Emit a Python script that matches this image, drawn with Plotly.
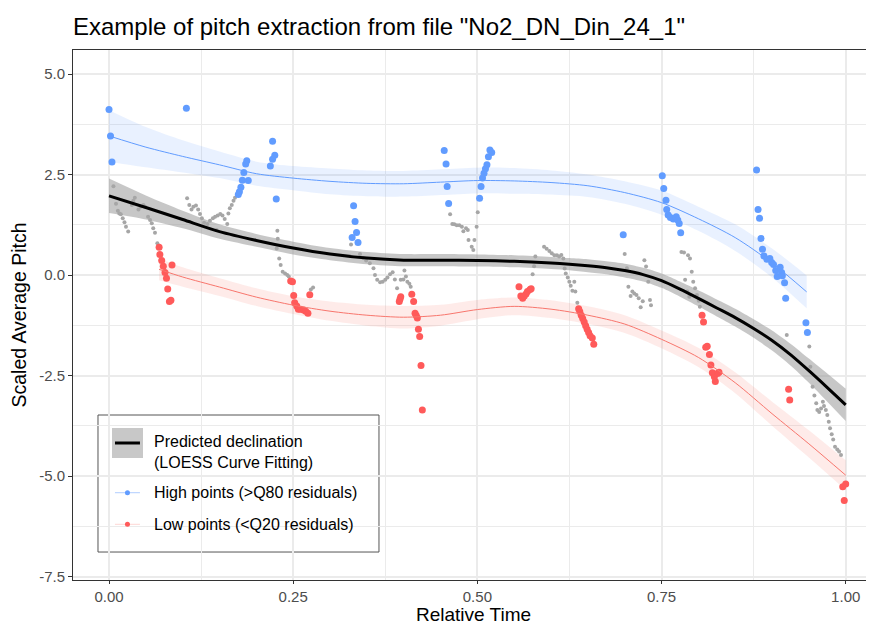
import plotly.graph_objects as go

# ---- data ----
title_text = 'Example of pitch extraction from file "No2_DN_Din_24_1"'

# all frames (grey dots)
grey_x = [0.006, 0.0095, 0.012, 0.014, 0.016, 0.0186, 0.021, 0.023, 0.026, 0.031, 0.033, 0.035,
          0.04, 0.043, 0.0466, 0.049, 0.053, 0.0557, 0.058, 0.06, 0.0624, 0.0656,
          0.106, 0.109, 0.112, 0.1145, 0.118, 0.121, 0.1235, 0.126, 0.129, 0.1335, 0.137, 0.141,
          0.144, 0.146, 0.1475, 0.151, 0.154, 0.157, 0.1605, 0.162, 0.164, 0.1666, 0.169, 0.171,
          0.2285, 0.229, 0.2276, 0.231, 0.233, 0.2357, 0.239, 0.242, 0.244, 0.274, 0.277,
          0.3285, 0.3407, 0.345, 0.349, 0.354, 0.359, 0.361, 0.364, 0.368, 0.3715, 0.375, 0.378,
          0.3814, 0.385, 0.388, 0.391, 0.396, 0.3995, 0.401, 0.403, 0.405, 0.4077, 0.4095,
          0.463, 0.466, 0.4687, 0.472, 0.4755, 0.479, 0.481, 0.4846, 0.487, 0.488, 0.4923,
          0.4945, 0.496, 0.499, 0.5005,
          0.575, 0.577, 0.5787, 0.5905, 0.594, 0.5977, 0.601, 0.6045, 0.608, 0.611, 0.614, 0.6167,
          0.6185, 0.62, 0.6227, 0.6248, 0.6267, 0.629, 0.6316, 0.633, 0.6357,
          0.7, 0.703, 0.705, 0.708, 0.7104, 0.713, 0.716, 0.719, 0.7217, 0.7245, 0.7267, 0.729,
          0.732, 0.7343, 0.7357,
          0.777, 0.7805, 0.782, 0.785, 0.786, 0.7877, 0.7886, 0.791, 0.793, 0.7955, 0.798, 0.8005, 0.802,
          0.92, 0.9506, 0.952, 0.955, 0.9575, 0.96, 0.9615, 0.964, 0.9665, 0.969, 0.9705, 0.973,
          0.975, 0.977, 0.9787, 0.981, 0.983, 0.9855, 0.9886, 0.991, 0.9936]
grey_y = [2.21, 1.77, 1.6, 1.53, 1.51, 1.41, 1.31, 1.2, 1.08, 1.74, 1.85, 1.92,
          1.63, 1.7, 1.74, 1.7, 1.45, 1.37, 1.29, 1.16, 1.05, 0.79,
          1.91, 1.74, 1.63, 1.7, 1.73, 1.63, 1.52, 1.41, 1.3, 1.27, 1.35, 1.41,
          1.45, 1.12, 1.48, 1.52, 1.48, 1.39, 1.27, 1.53, 1.66, 1.74, 1.85, 1.92,
          1.1, 0.9, 0.66, 0.41, 0.25, 0.08, 0.04, 0.0, -0.04, -0.36, -0.31,
          0.76, 0.52, 0.42, 0.36, 0.29, 0.17, 0.0, -0.12, -0.18, -0.17, -0.12, -0.06,
          0.02, 0.07, -0.11, -0.33, -0.12, -0.11, 0.11, -0.04, -0.17, -0.22, -0.29,
          1.51, 1.27, 1.26, 1.24, 1.24, 1.2, 1.09, 1.16, 1.12, 0.87, 0.7,
          0.62, 0.87, 1.2, 1.56,
          0.02, 0.22, 0.46, 0.7, 0.65, 0.6, 0.54, 0.49, 0.49, 0.46, 0.5, 0.41,
          0.16, 0.04, -0.06, -0.17, -0.27, -0.39, -0.17, -0.41, -0.69,
          0.52, 0.17, -0.29, -0.52, -0.41, -0.46, -0.5, -0.58, -0.8, -0.65, 0.37, 0.21,
          -0.17, -0.62, -0.75,
          0.57, 0.56, -0.12, -0.41, 0.49, -0.54, 0.41, 0.08, -0.17, -0.33, -0.5, -0.64, -0.79,
          -1.49, -1.78, -2.28, -2.78, -3.0, -3.19, -3.36, -3.41, -3.32, -3.15, -3.26, -3.36,
          -3.48, -3.65, -3.81, -3.96, -4.09, -4.27, -4.34, -4.39, -4.48]

# high points (> Q80 residuals)
high_x = [0.0, 0.002, 0.004, 0.105,
          0.187, 0.1855, 0.183, 0.181, 0.189, 0.179, 0.177, 0.1755,
          0.222, 0.225, 0.222, 0.219, 0.227,
          0.332, 0.334, 0.336, 0.330, 0.338, 0.455, 0.4575, 0.459, 0.461,
          0.517, 0.5195, 0.515, 0.513, 0.511, 0.509, 0.507, 0.505, 0.503,
          0.698, 0.751, 0.753, 0.756, 0.757, 0.759, 0.762, 0.766, 0.77, 0.772, 0.774, 0.776,
          0.879, 0.881, 0.883, 0.885, 0.887, 0.889, 0.893, 0.897, 0.8995, 0.902, 0.905, 0.907,
          0.911, 0.913, 0.914, 0.917, 0.9185, 0.946, 0.948]
high_y = [4.12, 3.46, 2.81, 4.15,
          2.84, 2.76, 2.55, 2.36, 2.35, 2.18, 2.07, 2.0,
          3.33, 2.98, 2.88, 2.71, 1.89,
          1.72, 1.33, 1.06, 0.93, 0.81, 3.10, 2.76, 2.20, 1.78,
          3.11, 3.05, 2.94, 2.74, 2.64, 2.53, 2.41, 2.20, 1.91,
          1.0, 2.47, 2.15, 1.86, 1.63, 1.49, 1.43, 1.39, 1.45, 1.37, 1.28, 1.05,
          2.61, 1.63, 1.41, 0.91, 0.64, 0.47, 0.39, 0.41, 0.31, 0.26, 0.11, -0.04,
          0.19, 0.06, -0.02, -0.19, -0.58, -1.19, -1.43]

# low points (< Q20 residuals)
low_x = [0.068, 0.069, 0.0715, 0.0737, 0.076, 0.078, 0.0855, 0.0797, 0.082, 0.084,
         0.2466, 0.249, 0.2507, 0.252, 0.2548, 0.257, 0.260, 0.264, 0.267, 0.270, 0.2725,
         0.396, 0.395, 0.394, 0.411, 0.4135, 0.4154, 0.417, 0.4185, 0.42, 0.4217, 0.4235, 0.4253,
         0.5565, 0.559, 0.5615, 0.5637, 0.566, 0.568, 0.5715, 0.573,
         0.6375, 0.639, 0.641, 0.643, 0.645, 0.647, 0.649, 0.651, 0.653, 0.656, 0.658,
         0.805, 0.807, 0.81, 0.812, 0.815, 0.817, 0.819, 0.8217, 0.823, 0.826, 0.828,
         0.9225, 0.924, 0.996, 1.0, 0.998]
low_y = [0.69, 0.51, 0.36, 0.22, 0.06, -0.08, 0.25, -0.35, -0.66, -0.63,
         -0.15, -0.17, -0.51, -0.69, -0.77, -0.85, -0.85, -0.87, -0.90, -0.95, -0.49,
         -0.54, -0.60, -0.66, -0.48, -0.66, -0.95, -1.01, -1.07, -1.35, -1.53, -2.25, -3.36,
         -0.29, -0.52, -0.58, -0.52, -0.47, -0.41, -0.36, -0.34,
         -0.84, -0.91, -1.0, -1.08, -1.17, -1.26, -1.35, -1.43, -1.51, -1.57, -1.72,
         -1.0, -1.17, -1.80, -1.77, -1.98, -2.24, -2.43, -2.53, -2.65, -2.45, -2.42,
         -2.84, -3.11, -5.27, -5.2, -5.61]

# LOESS fit of all frames, with its confidence band
fit_x = [0, 0.05, 0.1, 0.15, 0.2, 0.25, 0.3, 0.35, 0.4, 0.45, 0.5, 0.55, 0.6, 0.625, 0.65, 0.675,
         0.7, 0.725, 0.75, 0.775, 0.8, 0.825, 0.85, 0.875, 0.9, 0.925, 0.95, 0.975, 1.0]
fit_y = [1.97, 1.68, 1.38, 1.08, 0.86, 0.67, 0.52, 0.42, 0.37, 0.37, 0.36, 0.34, 0.30, 0.27, 0.23, 0.18,
         0.11, 0.01, -0.14, -0.35, -0.58, -0.82, -1.06, -1.33, -1.63, -1.98, -2.38, -2.8, -3.23]
fit_se = [0.43, 0.3, 0.22, 0.18, 0.16, 0.16, 0.15, 0.15, 0.15, 0.15, 0.15, 0.15, 0.15, 0.15, 0.16, 0.16,
          0.17, 0.17, 0.18, 0.19, 0.2, 0.21, 0.22, 0.23, 0.25, 0.27, 0.3, 0.35, 0.4]

# LOESS fit of the high points
hfit_x = [0, 0.05, 0.1, 0.15, 0.2, 0.25, 0.3, 0.35, 0.4, 0.45, 0.5, 0.55, 0.6, 0.65, 0.7,
          0.75, 0.8, 0.85, 0.9, 0.947]
hfit_y = [3.46, 3.18, 2.95, 2.74, 2.52, 2.41, 2.33, 2.28, 2.27, 2.31, 2.35, 2.34, 2.3, 2.22, 2.05,
          1.8, 1.4, 0.93, 0.3, -0.42]
hfit_se = [0.64, 0.5, 0.4, 0.33, 0.3, 0.3, 0.32, 0.32, 0.32, 0.32, 0.32, 0.32, 0.3, 0.28, 0.28,
           0.3, 0.3, 0.33, 0.36, 0.41]

# LOESS fit of the low points
lfit_x = [0.068, 0.1, 0.15, 0.2, 0.25, 0.3, 0.35, 0.4, 0.45, 0.5, 0.55, 0.6, 0.65, 0.7,
          0.75, 0.8, 0.85, 0.9, 0.95, 1.0]
lfit_y = [0.14, -0.05, -0.3, -0.55, -0.75, -0.9, -1.0, -1.05, -1.0, -0.86, -0.78, -0.85, -1.0, -1.22,
          -1.6, -2.05, -2.68, -3.45, -4.2, -4.98]
lfit_se = [0.27, 0.24, 0.22, 0.22, 0.22, 0.24, 0.26, 0.28, 0.26, 0.24, 0.22, 0.22, 0.22, 0.22,
           0.22, 0.24, 0.26, 0.3, 0.34, 0.37]

x_ticks = [0, 0.25, 0.5, 0.75, 1.0]
x_labels = ['0.00', '0.25', '0.50', '0.75', '1.00']
y_ticks = [5.0, 2.5, 0.0, -2.5, -5.0, -7.5]
y_labels = ['5.0', '2.5', '0.0', '-2.5', '-5.0', '-7.5']

legend_labels = ['Predicted declination', '(LOESS Curve Fitting)',
                 'High points (>Q80 residuals)', 'Low points (<Q20 residuals)']

# colours
BLUE = '#619CFF'
RED = '#F8766D'
RED_PT = '#FF5A5A'
GREY_PT = '#A6A6A6'
FONT = 'Liberation Sans, Arial, sans-serif'

# the page has an 8px body margin, so the figure is 8px smaller than the window
W, H = 866, 617

fig = go.Figure()


def add_band(xs, ys, se, fill):
    upper = [y + s for y, s in zip(ys, se)]
    lower = [y - s for y, s in zip(ys, se)]
    fig.add_trace(go.Scatter(x=xs, y=upper, mode='lines', line=dict(width=0, shape='spline', smoothing=0.8),
                             hoverinfo='skip', showlegend=False))
    fig.add_trace(go.Scatter(x=xs, y=lower, mode='lines', line=dict(width=0, shape='spline', smoothing=0.8),
                             fill='tonexty', fillcolor=fill, hoverinfo='skip', showlegend=False))


# bands first, then points, then lines
add_band(hfit_x, hfit_y, hfit_se, 'rgba(97,156,255,0.14)')
add_band(lfit_x, lfit_y, lfit_se, 'rgba(248,118,109,0.15)')
add_band(fit_x, fit_y, fit_se, 'rgba(153,153,153,0.55)')

fig.add_trace(go.Scatter(x=grey_x, y=grey_y, mode='markers',
                         marker=dict(size=4, color=GREY_PT), showlegend=False))
fig.add_trace(go.Scatter(x=high_x, y=high_y, mode='markers',
                         marker=dict(size=7, color=BLUE), showlegend=False))
fig.add_trace(go.Scatter(x=low_x, y=low_y, mode='markers',
                         marker=dict(size=7, color=RED_PT), showlegend=False))

fig.add_trace(go.Scatter(x=hfit_x, y=hfit_y, mode='lines',
                         line=dict(color=BLUE, width=1, shape='spline', smoothing=0.8), showlegend=False))
fig.add_trace(go.Scatter(x=lfit_x, y=lfit_y, mode='lines',
                         line=dict(color=RED, width=1, shape='spline', smoothing=0.8), showlegend=False))
fig.add_trace(go.Scatter(x=fit_x, y=fit_y, mode='lines',
                         line=dict(color='black', width=3, shape='spline', smoothing=0.8), showlegend=False))

# hand-built legend box (ggplot style), in plot-area paper coords
shapes = [
    dict(type='rect', xref='paper', yref='paper', x0=0.0312, x1=0.382, y0=0.0528, y1=0.3113,
         line=dict(color='#555555', width=1), fillcolor='white', layer='between'),
    dict(type='rect', xref='paper', yref='paper', x0=0.0487, x1=0.0874, y0=0.2302, y1=0.2868,
         line=dict(width=0), fillcolor='#C8C8C8', layer='above'),
    dict(type='line', xref='paper', yref='paper', x0=0.0524, x1=0.0836, y0=0.2585, y1=0.2585,
         line=dict(color='black', width=3), layer='above'),
    dict(type='line', xref='paper', yref='paper', x0=0.0524, x1=0.0836, y0=0.1647, y1=0.1647,
         line=dict(color='rgba(97,156,255,0.5)', width=1), layer='above'),
    dict(type='line', xref='paper', yref='paper', x0=0.0524, x1=0.0836, y0=0.1051, y1=0.1051,
         line=dict(color='rgba(248,118,109,0.3)', width=1), layer='above'),
]
for yk, col in [(0.1647, BLUE), (0.1051, RED_PT)]:
    shapes.append(dict(type='circle', xref='paper', yref='paper', xsizemode='pixel', ysizemode='pixel',
                       xanchor=0.068, yanchor=yk, x0=-2.5, x1=2.5, y0=-2.5, y1=2.5,
                       fillcolor=col, line=dict(width=0), layer='above'))

annotations = []
for txt, yk in zip(legend_labels, [0.2609, 0.2226, 0.1647, 0.1051]):
    annotations.append(dict(text=txt, xref='paper', yref='paper', x=0.0986, y=yk,
                            xanchor='left', yanchor='middle', showarrow=False,
                            font=dict(family=FONT, size=16, color='black')))

fig.update_layout(
    width=W, height=H,
    margin=dict(l=65, r=0, t=42, b=45, autoexpand=False),
    paper_bgcolor='white', plot_bgcolor='white',
    font=dict(family=FONT, color='black'),
    title=dict(text=title_text, x=0, xref='paper', xanchor='left',
               y=1 - 19 / H, yref='container', yanchor='middle',
               font=dict(family=FONT, size=24, color='black')),
    shapes=shapes, annotations=annotations,
    showlegend=False,
)

fig.update_xaxes(
    range=[-0.0489, 1.0384], tickvals=x_ticks, ticktext=x_labels,
    showgrid=True, gridcolor='#EBEBEB', gridwidth=1.6, zeroline=False,
    minor=dict(tickvals=[0.125, 0.375, 0.625, 0.875], showgrid=True, gridcolor='#EBEBEB',
               gridwidth=0.8, ticklen=0),
    showline=True, linecolor='#333333', linewidth=1, mirror=True,
    ticks='outside', ticklen=3, tickcolor='#333333', tickwidth=1,
    tickfont=dict(family=FONT, size=15, color='#4D4D4D'),
    title=dict(text='Relative Time', font=dict(family=FONT, size=19, color='black'), standoff=6),
    automargin=False,
)
fig.update_yaxes(
    range=[-7.587, 5.597], tickvals=y_ticks, ticktext=y_labels,
    showgrid=True, gridcolor='#EBEBEB', gridwidth=1.6, zeroline=False,
    minor=dict(tickvals=[3.75, 1.25, -1.25, -3.75, -6.25], showgrid=True, gridcolor='#EBEBEB',
               gridwidth=0.8, ticklen=0),
    showline=True, linecolor='#333333', linewidth=1, mirror=False,
    ticks='outside', ticklen=4, tickcolor='#333333', tickwidth=1,
    tickfont=dict(family=FONT, size=15, color='#4D4D4D'),
    title=dict(text='Scaled Average Pitch', font=dict(family=FONT, size=19.5, color='black'), standoff=8),
    automargin=False,
)

fig.write_html("out.html")
